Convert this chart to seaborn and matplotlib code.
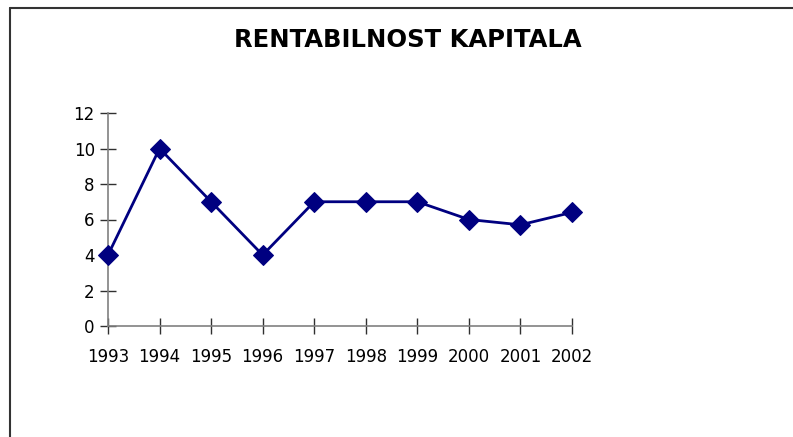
import matplotlib
matplotlib.use("Agg")
import matplotlib.pyplot as plt
import seaborn as sns
import pandas as pd
from matplotlib.lines import Line2D

years = [1993, 1994, 1995, 1996, 1997, 1998, 1999, 2000, 2001, 2002]
rentabilnost = [4, 10, 7, 4, 7, 7, 7, 6, 5.7, 6.4]
y_ticks = [0, 2, 4, 6, 8, 10, 12]

df = pd.DataFrame({"godina": years, "rentabilnost": rentabilnost})

sns.set_style("white")
plt.rcParams["font.family"] = ["DejaVu Sans"]
plt.rcParams["text.color"] = "black"

W, H = 793, 437
fig = plt.figure(figsize=(W / 100, H / 100), dpi=100)
ax = fig.add_axes([108 / W, 1 - 326 / H, (572 - 108) / W, (326 - 113) / H])

sns.lineplot(data=df, x="godina", y="rentabilnost", ax=ax, color="#000080",
             linewidth=2, marker="D", markersize=10, markeredgecolor="#000080",
             clip_on=False, zorder=5)

ax.set_xlim(1993, 2002)
ax.set_ylim(0, 12)
ax.set_xticks(years)
ax.set_xticklabels([str(y) for y in years], fontsize=12)
ax.set_yticks(y_ticks)
ax.set_yticklabels([str(t) for t in y_ticks], fontsize=12)
ax.set_xlabel("")
ax.set_ylabel("")

for side in ["top", "right"]:
    ax.spines[side].set_visible(False)
for side in ["left", "bottom"]:
    ax.spines[side].set_color("#808080")
    ax.spines[side].set_linewidth(1.2)
ax.tick_params(axis="both", direction="inout", length=11, width=1, color="#303030",
               labelcolor="black", bottom=True, left=True)
ax.tick_params(axis="x", pad=10)
ax.tick_params(axis="y", pad=4)

fig.text(408 / W, 1 - 40 / H, "RENTABILNOST KAPITALA", ha="center", va="center",
         fontsize=17.5, fontweight="bold", color="black")

# chart area border (top and left edges visible)
fig.add_artist(Line2D([9.5 / W, 1], [1 - 8 / H, 1 - 8 / H], color="#333333", linewidth=1.5))
fig.add_artist(Line2D([9.5 / W, 9.5 / W], [0, 1 - 8 / H], color="#333333", linewidth=1.5))

fig.savefig("out.png", dpi=100)
